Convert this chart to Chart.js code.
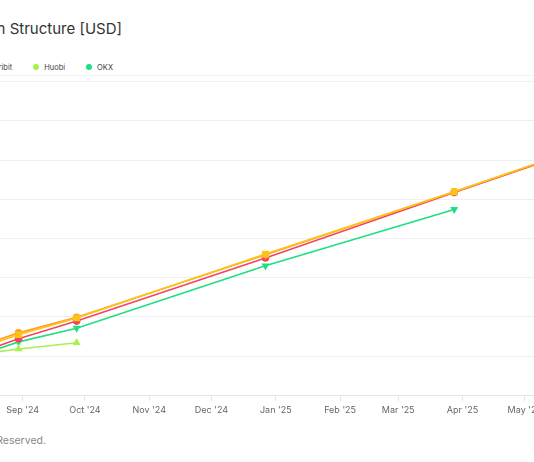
<!DOCTYPE html>
<html><head><meta charset="utf-8">
<script src="https://cdn.jsdelivr.net/npm/chart.js@4"></script>
<style>
body{margin:0;width:534px;height:462px;overflow:hidden;background:#fff;font-family:Inter,sans-serif;position:relative}
#title{position:absolute;right:412px;top:19px;white-space:nowrap;font-size:15px;color:#333;text-align:right}
#legend{position:absolute;right:421px;top:63px;white-space:nowrap;font-size:7.5px;color:#444;text-align:right}
#legend span{margin-left:21px}
#legend i{display:inline-block;width:6px;height:6px;border-radius:50%;margin-right:5px;vertical-align:0}
#sep{position:absolute;left:0;right:0;top:75px;border-top:1px solid #f2f2f2}
#foot{position:absolute;right:488px;top:434px;white-space:nowrap;font-size:10.5px;color:#888}
#wrap{position:absolute;left:-8px;top:76px;width:554px;height:344px}
</style></head><body>
<div id="title">BTC Futures Term Structure [USD]</div>
<div id="legend"></div>
<div id="sep"></div>
<div id="wrap"><canvas id="c"></canvas></div>
<div id="foot">© 2024 All Rights Reserved.</div>
<script>
const expiries = ["2024-08-16","2024-08-30","2024-09-27","2024-12-27","2025-03-28","2025-06-27"];
const binance = [58290,58540,58970,60600,62190,63850];
const bybit   = [58340,58590,58990,60580,62190,63830];
const deribit = [58180,58440,58890,60500,62170,63830];
const okx     = [58110,58360,58710,60300,61740];
const huobi   = [58080,58180,58340];
const monthTicks = ["2024-09-01","2024-10-01","2024-11-01","2024-12-01","2025-01-01","2025-02-01","2025-03-01","2025-04-01","2025-05-01"];
const monthNames = ["Jan","Feb","Mar","Apr","May","Jun","Jul","Aug","Sep","Oct","Nov","Dec"];
const t = s => Date.parse(s+"T00:00:00Z");
const pts = vals => vals.map((v,i)=>({x:t(expiries[i]),y:v}));
const series = [
 {label:"Binance",data:binance,color:"#fcc419",style:"rect"},
 {label:"Bybit",data:bybit,color:"#ff9f1c",style:"circle"},
 {label:"Deribit",data:deribit,color:"#f5455c",style:"circle"},
 {label:"Huobi",data:huobi,color:"#a9f04a",style:"triangle"},
 {label:"OKX",data:okx,color:"#1ee07f",style:"triangle",rot:180}
];
document.getElementById("legend").innerHTML = series.map(s=>`<span><i style="background:${s.color}"></i>${s.label}</span>`).join("");
const day = 86400000;
new Chart(document.getElementById("c"),{
 type:"line",
 data:{datasets:series.map(s=>({label:s.label,data:pts(s.data),borderColor:s.color,backgroundColor:s.color,
   pointStyle:s.style,pointRotation:s.rot||0,pointRadius:s.style==="rect"?3.5:3,borderWidth:1.6,tension:0}))},
 options:{responsive:true,maintainAspectRatio:false,animation:false,
  layout:{padding:0},
  plugins:{legend:{display:false},tooltip:{enabled:false}},
  scales:{
   x:{type:"linear",min:t("2024-09-01")-12.1*day,max:t("2025-05-01")+4.4*day,
      afterBuildTicks:a=>{a.ticks=monthTicks.map(m=>({value:t(m)}));},
      ticks:{autoSkip:false,maxRotation:0,color:"#666",font:{family:"Inter",size:9},padding:4,
        callback:v=>{const d=new Date(v);return monthNames[d.getUTCMonth()]+" '"+String(d.getUTCFullYear()).slice(2);}},
      grid:{drawOnChartArea:false,tickLength:6,color:"#e6e6e6"},border:{color:"#e6e6e6"}},
   y:{min:57000,max:65000,ticks:{display:false,stepSize:1000},grid:{color:"#efefef",drawTicks:false},border:{display:false}}
  }}
});
</script></body></html>
